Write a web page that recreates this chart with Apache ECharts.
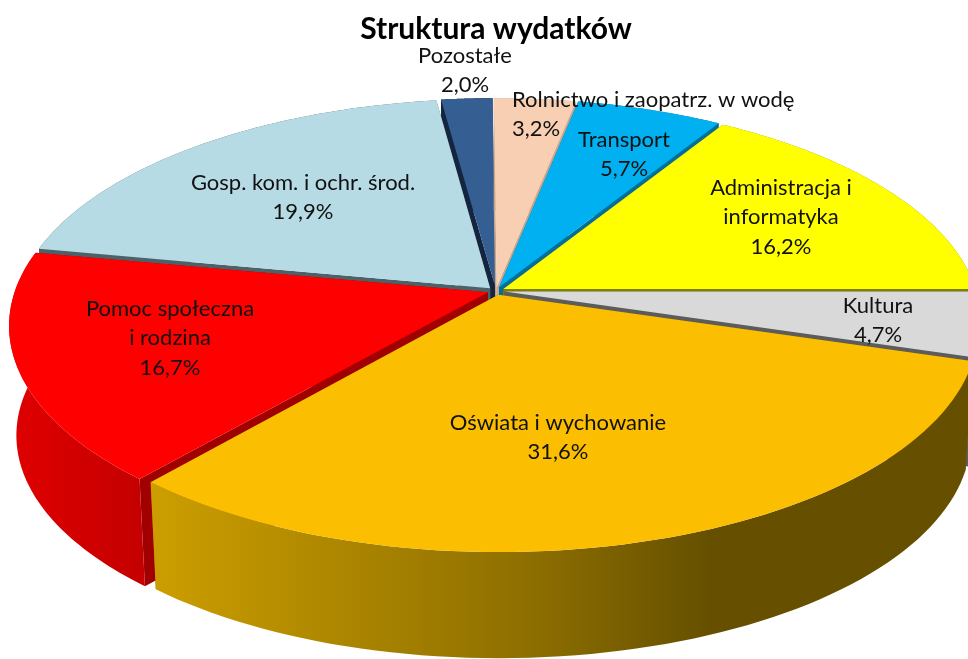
<!DOCTYPE html>
<html><head><meta charset="utf-8">
<style>html,body{margin:0;padding:0;background:#fff}#c{width:968px;height:659px}</style>
<script src="https://cdn.jsdelivr.net/npm/echarts@6/dist/echarts.min.js"></script>
</head><body><div id="c"></div>
<script>
const categories = ["Rolnictwo i zaopatrz. w wodę","Transport","Administracja i\ninformatyka","Kultura","Oświata i wychowanie","Pomoc społeczna\ni rodzina","Gosp. kom. i ochr. środ.","Pozostałe"];
const values = [3.2,5.7,16.2,4.7,31.6,16.7,19.9,2.0];
const topColors = ["#f8cfb3","#00b0f0","#ffff00","#d9d9d9","#fcbe00","#ff0000","#b7dbe5","#355f93"];
const edgeColors = ["#c9a58c","#00709a","#7f7f00","#5c5c5c","#8a6b00","#a00000","#4d6168","#15253f"];
const labelCentres = [[512,100,"left"],[624,140,"center"],[781,188,"center"],[878,306,"center"],[558,423,"center"],[170,309,"center"],[303,183,"center"],[465,56,"center"]];
const wallFills = {
  4:[[0,"#cc9e00"],[0.45,"#8f7000"],[0.68,"#665000"],[1,"#665000"]],
  5:[[0,"#e00000"],[1,"#c40000"]],
  3:[[0,"#5c5c5c"],[1,"#707070"]]
};
const total = values.reduce((a,b)=>a+b,0);
const CX=496, CY=291, A=473, B=218, K=0.148, EXPL=0.018, DEPTH=110, BOTTOM=0.985, TAU=Math.PI*2, START=-0.007;
let acc=0;
const slices = values.map(v=>{const s=START+acc/total*TAU; acc+=v; const e=START+acc/total*TAU; return {s,e,m:(s+e)/2};});
const order = slices.map((s,i)=>i).sort((a,b)=>Math.cos(slices[b].m)-Math.cos(slices[a].m));
function proj(th,r,sl,low){
  const ux=r*Math.sin(th)+EXPL*Math.sin(sl.m), vy=r*Math.cos(th)+EXPL*Math.cos(sl.m);
  const w=1/(1+K*vy), x=A*ux*w, y=-B*vy*w;
  return low?[CX+x*BOTTOM,CY+y*BOTTOM+DEPTH]:[CX+x,CY+y];
}
function arc(sl,low){const p=[];for(let i=0;i<=70;i++)p.push(proj(sl.s+(sl.e-sl.s)*i/70,1,sl,low));return p;}
function wall(sl,th){return [proj(th,0,sl,false),proj(th,1,sl,false),proj(th,1,sl,true),proj(th,0,sl,true)];}
function renderItem(params,api){
  const i=params.dataIndex, sl=slices[i], rank=order.indexOf(i)*4+1;
  const top=arc(sl,false), bot=arc(sl,true);
  const stops=wallFills[i];
  const wallFill=stops?{type:'linear',x:0,y:0,x2:1,y2:0,colorStops:stops.map(s=>({offset:s[0],color:s[1]}))}:edgeColors[i];
  const pct=api.value(1).toFixed(1).replace('.',',')+'%';
  const L=labelCentres[i];
  const poly=(points,fill,z)=>({type:'polygon',z2:z,shape:{points},style:{fill,stroke:null}});
  return {type:'group',children:[
    poly(wall(sl,sl.s),edgeColors[i],rank),
    poly(wall(sl,sl.e),edgeColors[i],rank),
    poly(top.concat(bot.slice().reverse()),wallFill,rank+1),
    poly([proj(0,0,sl,false)].concat(top),topColors[i],rank+2),
    {type:'text',z2:1000,x:L[0],y:L[1],style:{text:categories[i]+'\n'+pct,font:'22px Lato',fill:'#111',align:L[2],verticalAlign:'top',lineHeight:29.5,padding:[-15,0,0,0]}}
  ]};
}
const chart=echarts.init(document.getElementById('c'),null,{renderer:'canvas'});
chart.setOption({
  animation:false,
  backgroundColor:'#fff',
  title:{text:'Struktura wydatków',left:491,top:9,textAlign:'center',textStyle:{fontFamily:'Lato',fontWeight:'bold',fontSize:30,color:'#000'}},
  series:[{type:'custom',coordinateSystem:'none',silent:true,renderItem,
    data:categories.map((c,i)=>({name:c,value:[i,values[i]]}))}]
});
</script></body></html>
